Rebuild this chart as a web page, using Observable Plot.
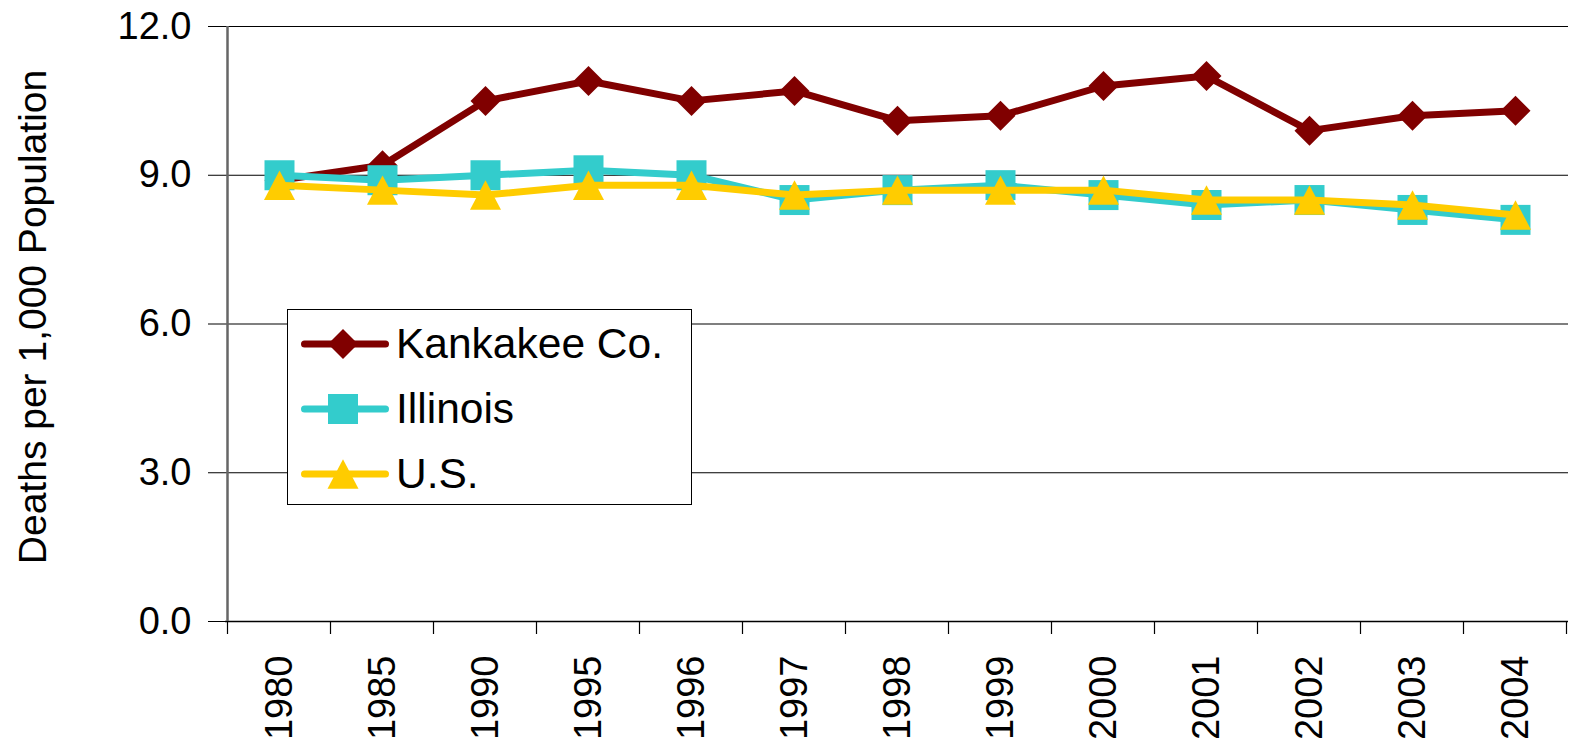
<!DOCTYPE html>
<html><head><meta charset="utf-8">
<script src="https://cdn.jsdelivr.net/npm/d3@7"></script>
<script src="https://cdn.jsdelivr.net/npm/@observablehq/plot@0.6"></script>
<style>
body{margin:0;background:#fff;}
#wrap{position:relative;width:1572px;height:746px;overflow:hidden;font-family:"Liberation Sans",Arial,sans-serif;}
#legend{position:absolute;left:287px;top:309px;width:403px;height:194px;border:1.5px solid #000;background:#fff;}
#legend .row{position:absolute;left:0;height:50px;display:flex;align-items:center;white-space:nowrap;}
#legend .row svg{display:block;}
#legend .row span{font-size:42.5px;color:#000;margin-left:7px;line-height:50px;}
</style></head><body><div id="wrap"></div>
<script>
const years = ["1980","1985","1990","1995","1996","1997","1998","1999","2000","2001","2002","2003","2004"];
const kankakee = [8.9, 9.2, 10.5, 10.9, 10.5, 10.7, 10.1, 10.2, 10.8, 11.0, 9.9, 10.2, 10.3];
const illinois = [9.0, 8.9, 9.0, 9.1, 9.0, 8.5, 8.7, 8.8, 8.6, 8.4, 8.5, 8.3, 8.1];
const us = [8.8, 8.7, 8.6, 8.8, 8.8, 8.6, 8.7, 8.7, 8.7, 8.5, 8.5, 8.4, 8.2];
const seriesNames = ["Kankakee Co.", "Illinois", "U.S."];
const seriesColors = ["#800000", "#33CCCC", "#FFCC00"];
const yTicks = [0, 3, 6, 9, 12];
const yTitle = "Deaths per 1,000 Population";

const diamond = {draw(ctx, size){const r = Math.sqrt(size/Math.PI); ctx.moveTo(0,-r); ctx.lineTo(r,0); ctx.lineTo(0,r); ctx.lineTo(-r,0); ctx.closePath();}};
const square = {draw(ctx, size){const r = Math.sqrt(size/Math.PI); ctx.rect(-r,-r,2*r,2*r);}};
const triangle = {draw(ctx, size){const r = Math.sqrt(size/Math.PI); ctx.moveTo(0,-0.95*r); ctx.lineTo(r,0.95*r); ctx.lineTo(-r,0.95*r); ctx.closePath();}};
const symbols = [diamond, square, triangle];
const radii = [15, 15, 15.5];

const seriesValues = [kankakee, illinois, us];
const seriesData = seriesValues.map((vals, s) => years.map((y, i) => ({year: y, value: vals[i], series: seriesNames[s]})));

function bandTicks(index, scales) {
  const x = scales.x, y = scales.y;
  const step = x(years[1]) - x(years[0]);
  const y0 = y(0);
  const bounds = years.map(d => x(d) - step/2).concat([x(years[years.length-1]) + step/2]);
  const g = d3.create("svg:g");
  g.selectAll("line").data(bounds).join("line")
    .attr("x1", d => d).attr("x2", d => d).attr("y1", y0).attr("y2", y0 + 13)
    .attr("stroke", "#000").attr("stroke-width", 1.2);
  g.append("line").attr("x1", bounds[0]).attr("x2", bounds[0]).attr("y1", y(12)).attr("y2", y0)
    .attr("stroke", "#666").attr("stroke-width", 2.5);
  return g.node();
}

const marks = [
  Plot.gridY(yTicks.filter(d => d > 0), {stroke: "#000", strokeOpacity: 1, strokeWidth: 1.2}),
  Plot.ruleY([0], {stroke: "#000", strokeWidth: 1.5}),
  bandTicks,
  Plot.axisY({ticks: yTicks, tickFormat: d3.format(".1f"), tickSize: 17, tickPadding: 17, fontSize: 38, label: null, stroke: "#000"}),
  Plot.axisX({tickSize: 0, tickPadding: 34, tickRotate: -90, fontSize: 38, label: null}),
  Plot.text([yTitle], {frameAnchor: "left", textAnchor: "middle", rotate: -90, dx: -192, dy: -7, fontSize: 39, fill: "#000"})
];
seriesData.forEach((data, s) => {
  marks.push(Plot.line(data, {x: "year", y: "value", stroke: seriesColors[s], strokeWidth: 7, strokeLinejoin: "round", strokeLinecap: "round"}));
  marks.push(Plot.dot(data, {x: "year", y: "value", symbol: symbols[s], r: radii[s], fill: seriesColors[s], stroke: "none"}));
});

const chart = Plot.plot({
  width: 1572, height: 746,
  marginLeft: 225, marginRight: 4, marginTop: 26, marginBottom: 125,
  style: {fontFamily: '"Liberation Sans", Arial, sans-serif', fontSize: "38px", color: "#000", background: "#fff"},
  x: {type: "point", domain: years, padding: 0.5, axis: null},
  y: {domain: [0, 12], axis: null},
  marks
});
const wrap = document.getElementById("wrap");
wrap.appendChild(chart);

// legend
const legend = document.createElement("div");
legend.id = "legend";
const rowCenters = [34, 99, 164];
seriesNames.forEach((name, s) => {
  const row = document.createElement("div");
  row.className = "row";
  row.style.top = (rowCenters[s] - 25) + "px";
  const svg = d3.create("svg").attr("width", 101).attr("height", 50);
  svg.append("line").attr("x1", 16.5).attr("x2", 97.5).attr("y1", 25).attr("y2", 25)
    .attr("stroke", seriesColors[s]).attr("stroke-width", 7).attr("stroke-linecap", "round");
  const sym = d3.symbol(symbols[s], radii[s] * radii[s] * Math.PI);
  svg.append("path").attr("d", sym()).attr("transform", "translate(55,25)").attr("fill", seriesColors[s]);
  row.appendChild(svg.node());
  const span = document.createElement("span");
  span.textContent = name;
  row.appendChild(span);
  legend.appendChild(row);
});
wrap.appendChild(legend);
</script>
</body></html>
